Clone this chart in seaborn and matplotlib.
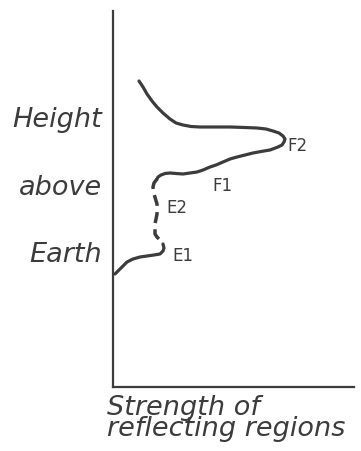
import pandas as pd
import matplotlib
matplotlib.use('Agg')
import matplotlib.pyplot as plt
import seaborn as sns

# strength of reflection vs height (arbitrary units)
upper_strength = [26, 30, 34, 39, 44, 50, 57, 63, 70, 78, 87, 100, 117, 132, 144, 153, 160, 166, 170, 172, 171, 169, 165,
                  157, 148, 140, 132, 124, 117, 110, 103, 97, 90, 84, 77, 70, 63, 57, 52, 48, 45, 44]
upper_height = [306, 300, 293, 286, 280, 274, 268, 264, 262, 260.5, 260, 260, 260, 259.5, 259, 258, 256, 254, 251, 248, 245, 242, 240,
                237, 235.5, 234, 232, 230, 228, 225, 222, 220, 217, 215, 214, 213, 213.5, 214, 213.5, 212, 210, 208]

e2_strength = [44, 41, 40, 41, 44, 44, 43, 42, 42, 44, 47, 50]
e2_height = [208, 204, 200, 193, 183, 173, 168, 163, 153, 150, 147, 143]

lower_strength = [50, 51, 50, 47, 41, 34, 27, 20, 14, 10, 6, 2]
lower_height = [143, 139, 136, 133, 132, 131, 130, 128, 125, 121, 117, 113]

region_labels = ['F2', 'F1', 'E2', 'E1']
label_strength = [174, 99, 53, 59]
label_height = [242, 202, 180, 132]

y_words = ['Height', 'above', 'Earth']
y_word_height = [268, 200, 133]

ink = '#3c3c3c'

sns.set_style('white')
plt.rcParams['font.family'] = ['DejaVu Sans']

fig = plt.figure(figsize=(3.61, 4.52), dpi=100)
ax = fig.add_axes([113 / 361, 1 - 388 / 452, 241 / 361, 376 / 452])

upper = pd.DataFrame({'strength': upper_strength, 'height': upper_height})
e2 = pd.DataFrame({'strength': e2_strength, 'height': e2_height})
lower = pd.DataFrame({'strength': lower_strength, 'height': lower_height})

sns.lineplot(data=upper, x='strength', y='height', sort=False, estimator=None,
             color=ink, linewidth=2.3, ax=ax, solid_joinstyle='round', solid_capstyle='round')
sns.lineplot(data=e2, x='strength', y='height', sort=False, estimator=None,
             color=ink, linewidth=2.5, ax=ax, linestyle=(0, (3.2, 1.8)))
sns.lineplot(data=lower, x='strength', y='height', sort=False, estimator=None,
             color=ink, linewidth=2.3, ax=ax, solid_joinstyle='round', solid_capstyle='round')

for lab, sx, hy in zip(region_labels, label_strength, label_height):
    ax.text(sx, hy, lab, color=ink, fontsize=12, ha='left', va='center')

for word, hy in zip(y_words, y_word_height):
    ax.text(-11, hy, word, color=ink, fontsize=19.5, style='italic',
            ha='right', va='center', transform=ax.transData, clip_on=False)

ax.set_xlim(0, 241)
ax.set_ylim(0, 376)
ax.set_xticks([])
ax.set_yticks([])
ax.set_xlabel('')
ax.set_ylabel('')
sns.despine(ax=ax)
for side in ['left', 'bottom']:
    ax.spines[side].set_color(ink)
    ax.spines[side].set_linewidth(1.6)

ax.text(-6, -7, 'Strength of\nreflecting regions', color=ink, fontsize=19.5,
        style='italic', ha='left', va='top', linespacing=0.74, clip_on=False)

fig.savefig('out.png', dpi=100)
